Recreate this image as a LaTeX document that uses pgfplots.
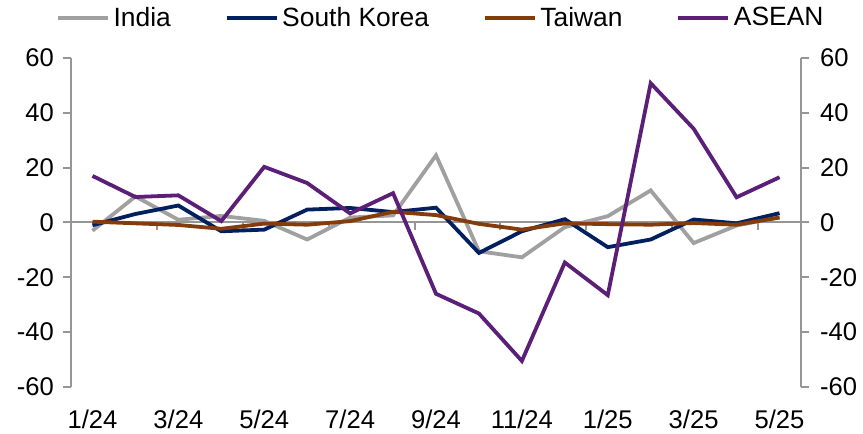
\documentclass[border=0pt]{standalone}
\usepackage{fontspec}
\setmainfont{Liberation Sans}
\usepackage{pgfplots}
\usepackage{pgfplotstable}
\pgfplotsset{compat=1.18}

\definecolor{cIndia}{HTML}{A0A0A0}
\definecolor{cKorea}{HTML}{002060}
\definecolor{cTaiwan}{HTML}{843C0C}
\definecolor{cAsean}{HTML}{5B1F78}
\definecolor{axisgray}{HTML}{969696}

% Monthly values, Jan 2024 to May 2025
\pgfplotstableread{
idx india korea taiwan asean
0   -3.0  -1.0   0.3  17.0
1    9.5   3.1  -0.3   9.3
2    1.0   6.2  -0.9   9.9
3    2.4  -3.2  -2.3   0.5
4    0.6  -2.6  -0.4  20.3
5   -6.2   4.7  -0.8  14.4
6    1.8   5.3   0.5   3.3
7    2.6   3.8   3.9  10.7
8   24.5   5.4   2.7 -26.0
9  -10.5 -11.1  -0.5 -33.2
10 -12.7  -3.2  -2.6 -50.5
11  -1.7   1.2  -0.3 -14.6
12   2.3  -9.0  -0.6 -26.5
13  11.7  -6.2  -0.8  50.8
14  -7.5   1.1  -0.2  34.2
15  -1.1  -0.3  -0.8   9.2
16   1.9   3.4   1.8  16.5
}\datatable

\begin{document}
\begin{tikzpicture}
\useasboundingbox (-35.5pt,-23.2pt) rectangle (396pt,193.5pt);
\pgfplotsset{
  common/.style={
    scale only axis, width=365pt, height=164.5pt,
    at={(0,0)}, anchor=south west,
    xmin=-0.5, xmax=16.5, ymin=-60, ymax=60,
    ytick={-60,-40,-20,0,20,40,60},
    tick align=outside, major tick length=4pt,
    every tick/.style={axisgray, line width=1pt},
    axis line style={axisgray, line width=1pt},
    tick label style={font=\fontsize{12.8}{15}\selectfont, text=black},
    /pgf/number format/assume math mode=true,
  }
}
\begin{axis}[common,
  axis y line*=left,
  axis x line*=bottom, x axis line style={draw=none},
  xtick={0,2,...,16},
  xticklabels={1/24,3/24,5/24,7/24,9/24,11/24,1/25,3/25,5/25},
  xtick style={draw=none},
  xticklabel style={yshift=-4pt},
  yticklabel style={xshift=-1pt},
  legend columns=4,
  legend style={at={(axis description cs:0.508,1.1216)}, anchor=center,
    draw=none, fill=none, font=\fontsize{13.2}{15}\selectfont,
    /tikz/every even column/.append style={column sep=25pt}},
  legend image code/.code={\draw[#1, line width=1.7pt] (0pt,0pt) -- (25pt,0pt);},
  every axis plot/.append style={line width=1.9pt, line join=miter, mark=none},
]
\draw[axisgray, line width=1pt] (axis cs:-0.5,0) -- (axis cs:16.5,0);
\pgfplotsinvokeforeach{1.5,3.5,5.5,7.5,9.5,11.5,13.5,15.5}{
  \draw[axisgray, line width=1pt] (axis cs:#1,0) -- ++(0pt,-4pt);
}
\addplot[cIndia]  table[x=idx, y=india]  {\datatable};
\addlegendentry{India}
\addplot[cKorea]  table[x=idx, y=korea]  {\datatable};
\addlegendentry{South Korea}
\addplot[cTaiwan] table[x=idx, y=taiwan] {\datatable};
\addlegendentry{Taiwan}
\addplot[cAsean]  table[x=idx, y=asean]  {\datatable};
\addlegendentry{ASEAN}
\end{axis}
\begin{axis}[common,
  axis y line*=right,
  axis x line=none,
  yticklabel style={xshift=2pt},
]
\end{axis}
\end{tikzpicture}
\end{document}
